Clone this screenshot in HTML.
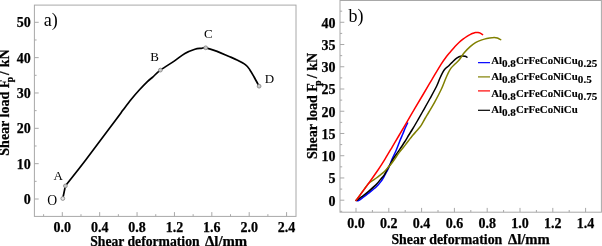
<!DOCTYPE html>
<html><head><meta charset="utf-8"><style>
html,body{margin:0;padding:0;background:#fff;}
svg{display:block;will-change:transform;}
text{-webkit-font-smoothing:antialiased;}
text{font-family:"Liberation Serif",serif;}
.lab{font-weight:bold;font-size:14px;fill:#000;stroke:#000;stroke-width:0.25px;}
.pl{font-size:18px;fill:#000;}
.pt{font-size:13px;fill:#000;}
.lg{font-weight:bold;font-size:10.8px;fill:#000;stroke:#000;stroke-width:0.15px;}
.sb{font-size:11.1px;}
</style></head><body>
<svg width="602" height="246" viewBox="0 0 602 246">
<rect x="34.4" y="5.1" width="261.60" height="211.30" fill="none" stroke="#a8a8a8" stroke-width="1"/>
<rect x="340.0" y="0.5" width="261.40" height="211.70" fill="none" stroke="#a8a8a8" stroke-width="1"/>
<path d="M34.4 199.00h4.3 M34.4 181.33h2.2 M34.4 163.66h4.3 M34.4 145.99h2.2 M34.4 128.32h4.3 M34.4 110.65h2.2 M34.4 92.98h4.3 M34.4 75.31h2.2 M34.4 57.64h4.3 M34.4 39.97h2.2 M34.4 22.30h4.3 M43.61 216.4v-2.2 M62.30 216.4v-4.3 M80.99 216.4v-2.2 M99.68 216.4v-4.3 M118.37 216.4v-2.2 M137.06 216.4v-4.3 M155.75 216.4v-2.2 M174.44 216.4v-4.3 M193.13 216.4v-2.2 M211.82 216.4v-4.3 M230.51 216.4v-2.2 M249.20 216.4v-4.3 M267.89 216.4v-2.2 M286.58 216.4v-4.3 M340.0 211.32h2.2 M340.0 200.20h4.3 M340.0 189.08h2.2 M340.0 177.96h4.3 M340.0 166.84h2.2 M340.0 155.72h4.3 M340.0 144.60h2.2 M340.0 133.48h4.3 M340.0 122.36h2.2 M340.0 111.24h4.3 M340.0 100.12h2.2 M340.0 89.00h4.3 M340.0 77.88h2.2 M340.0 66.76h4.3 M340.0 55.64h2.2 M340.0 44.52h4.3 M340.0 33.40h2.2 M340.0 22.28h4.3 M340.0 11.16h2.2 M356.00 212.2v-4.3 M372.40 212.2v-2.2 M388.80 212.2v-4.3 M405.20 212.2v-2.2 M421.60 212.2v-4.3 M438.00 212.2v-2.2 M454.40 212.2v-4.3 M470.80 212.2v-2.2 M487.20 212.2v-4.3 M503.60 212.2v-2.2 M520.00 212.2v-4.3 M536.40 212.2v-2.2 M552.80 212.2v-4.3 M569.20 212.2v-2.2 M585.60 212.2v-4.3" stroke="#a8a8a8" stroke-width="1" fill="none"/>
<g class="lab"><text x="30.8" y="204.10" text-anchor="end">0</text><text x="30.8" y="168.76" text-anchor="end">10</text><text x="30.8" y="133.42" text-anchor="end">20</text><text x="30.8" y="98.08" text-anchor="end">30</text><text x="30.8" y="62.74" text-anchor="end">40</text><text x="30.8" y="27.40" text-anchor="end">50</text><text x="62.30" y="232.2" text-anchor="middle">0.0</text><text x="99.68" y="232.2" text-anchor="middle">0.4</text><text x="137.06" y="232.2" text-anchor="middle">0.8</text><text x="174.44" y="232.2" text-anchor="middle">1.2</text><text x="211.82" y="232.2" text-anchor="middle">1.6</text><text x="249.20" y="232.2" text-anchor="middle">2.0</text><text x="286.58" y="232.2" text-anchor="middle">2.4</text><text x="335.6" y="205.60" text-anchor="end">0</text><text x="335.6" y="183.36" text-anchor="end">5</text><text x="335.6" y="161.12" text-anchor="end">10</text><text x="335.6" y="138.88" text-anchor="end">15</text><text x="335.6" y="116.64" text-anchor="end">20</text><text x="335.6" y="94.40" text-anchor="end">25</text><text x="335.6" y="72.16" text-anchor="end">30</text><text x="335.6" y="49.92" text-anchor="end">35</text><text x="335.6" y="27.68" text-anchor="end">40</text><text x="356.00" y="228.1" text-anchor="middle">0.0</text><text x="388.80" y="228.1" text-anchor="middle">0.2</text><text x="421.60" y="228.1" text-anchor="middle">0.4</text><text x="454.40" y="228.1" text-anchor="middle">0.6</text><text x="487.20" y="228.1" text-anchor="middle">0.8</text><text x="520.00" y="228.1" text-anchor="middle">1.0</text><text x="552.80" y="228.1" text-anchor="middle">1.2</text><text x="585.60" y="228.1" text-anchor="middle">1.4</text></g>
<text class="lab" x="90.2" y="246.2" textLength="109.4" lengthAdjust="spacingAndGlyphs">Shear deformation</text>
<text class="lab" x="205.0" y="246.2" textLength="42.2" lengthAdjust="spacingAndGlyphs">&#916;l/mm</text>
<text class="lab" x="391.4" y="244.3" textLength="110.9" lengthAdjust="spacingAndGlyphs">Shear deformation</text>
<text class="lab" x="508.0" y="244.3" textLength="41.8" lengthAdjust="spacingAndGlyphs">&#916;l/mm</text>
<g class="lab" transform="translate(9.1 0) rotate(-90)"><text x="-155.7" y="0">Shear load F</text><text x="-82.3" y="4.2" font-size="9.5">p</text><text x="-74.9" y="0">/</text><text x="-67.3" y="0">kN</text></g>
<g class="lab" transform="translate(317.2 3.4) rotate(-90)"><text x="-155.7" y="0">Shear load F</text><text x="-82.3" y="4.2" font-size="9.5">p</text><text x="-74.9" y="0">/</text><text x="-67.3" y="0">kN</text></g>
<text class="pl" x="43.8" y="26.3">a)</text>
<text class="pl" x="348.4" y="21.9">b)</text>
<text class="pt" x="47.2" y="204.5" style="font-size:13.7px">O</text>
<text class="pt" x="53.6" y="180.3">A</text>
<text class="pt" x="150.3" y="61.0">B</text>
<text class="pt" x="203.9" y="38.3">C</text>
<text class="pt" x="264.8" y="83.2">D</text>
<path d="M62.8 198.5 L65.4 185.9" fill="none" stroke="#000" stroke-width="1.7"/>
<path d="M65.40 185.90 C68.78 181.58 77.32 170.98 85.70 160.00 C94.08 149.02 109.48 128.32 115.70 120.00 C121.92 111.68 120.43 113.52 123.00 110.10 C125.57 106.68 128.35 102.88 131.10 99.50 C133.85 96.12 136.78 92.78 139.50 89.80 C142.22 86.82 145.15 83.77 147.40 81.60 C149.65 79.43 150.83 78.72 153.00 76.80 C155.17 74.88 156.87 72.72 160.40 70.10 C163.93 67.48 170.12 63.87 174.20 61.10 C178.28 58.33 181.45 55.47 184.90 53.50 C188.35 51.53 192.17 50.17 194.90 49.30 C197.63 48.43 199.50 48.55 201.30 48.30 C203.10 48.05 203.07 47.28 205.70 47.80 C208.33 48.32 213.30 50.00 217.10 51.40 C220.90 52.80 225.18 54.78 228.50 56.20 C231.82 57.62 234.15 58.47 237.00 59.90 C239.85 61.33 243.45 63.13 245.60 64.80 C247.75 66.47 248.48 67.87 249.90 69.90 C251.32 71.93 252.57 74.28 254.10 77.00 C255.63 79.72 258.27 84.67 259.10 86.20" fill="none" stroke="#000" stroke-width="1.7" stroke-linejoin="round"/>
<circle cx="62.8" cy="198.5" r="1.9" fill="#e8e8e8" stroke="#808080" stroke-width="0.8"/>
<circle cx="65.4" cy="185.9" r="1.9" fill="#c8c8c8" stroke="#808080" stroke-width="0.8"/>
<circle cx="160.4" cy="70.1" r="1.9" fill="#c8c8c8" stroke="#808080" stroke-width="0.8"/>
<circle cx="205.7" cy="47.8" r="1.9" fill="#c8c8c8" stroke="#808080" stroke-width="0.8"/>
<circle cx="259.1" cy="86.2" r="1.9" fill="#c8c8c8" stroke="#808080" stroke-width="0.8"/>
<path d="M356.10 200.40 C356.50 200.42 357.35 200.98 358.50 200.50 C359.65 200.02 361.37 198.68 363.00 197.50 C364.63 196.32 366.07 195.18 368.30 193.40 C370.53 191.62 374.20 188.90 376.40 186.80 C378.60 184.70 380.18 182.57 381.50 180.80 C382.82 179.03 383.47 177.67 384.30 176.20 C385.13 174.73 385.78 173.37 386.50 172.00 C387.22 170.63 387.70 170.08 388.60 168.00 C389.50 165.92 390.62 162.50 391.90 159.50 C393.18 156.50 394.98 153.08 396.30 150.00 C397.62 146.92 398.72 143.67 399.80 141.00 C400.88 138.33 401.93 136.08 402.80 134.00 C403.67 131.92 404.20 130.33 405.00 128.50 C405.80 126.67 407.17 123.92 407.60 123.00" fill="none" stroke="#0000ff" stroke-width="1.5" stroke-linejoin="round" stroke-linecap="round"/>
<path d="M356.10 200.40 C356.33 200.30 356.55 200.42 357.50 199.80 C358.45 199.18 360.00 198.07 361.80 196.70 C363.60 195.33 365.87 193.65 368.30 191.60 C370.73 189.55 374.23 186.60 376.40 184.40 C378.57 182.20 379.95 180.03 381.30 178.40 C382.65 176.77 383.45 176.23 384.50 174.60 C385.55 172.97 386.75 170.13 387.60 168.60 C388.45 167.07 388.62 167.08 389.60 165.40 C390.58 163.72 392.10 160.75 393.50 158.50 C394.90 156.25 396.15 154.65 398.00 151.90 C399.85 149.15 402.80 144.82 404.60 142.00 C406.40 139.18 407.52 137.08 408.80 135.00 C410.08 132.92 410.88 131.83 412.30 129.50 C413.72 127.17 415.57 124.00 417.30 121.00 C419.03 118.00 420.58 115.25 422.70 111.50 C424.82 107.75 427.67 102.75 430.00 98.50 C432.33 94.25 435.07 89.33 436.70 86.00 C438.33 82.67 438.82 80.73 439.80 78.50 C440.78 76.27 441.73 74.18 442.60 72.60 C443.47 71.02 444.07 70.07 445.00 69.00 C445.93 67.93 447.07 67.27 448.20 66.20 C449.33 65.13 450.38 63.93 451.80 62.60 C453.22 61.27 455.07 59.28 456.70 58.20 C458.33 57.12 460.18 56.42 461.60 56.10 C463.02 55.78 464.30 56.12 465.20 56.30 C466.10 56.48 466.70 57.05 467.00 57.20" fill="none" stroke="#000000" stroke-width="1.5" stroke-linejoin="round" stroke-linecap="round"/>
<path d="M356.10 200.40 C357.08 199.05 359.97 195.07 362.00 192.30 C364.03 189.53 366.55 185.75 368.30 183.80 C370.05 181.85 371.15 181.57 372.50 180.60 C373.85 179.63 375.07 178.97 376.40 178.00 C377.73 177.03 379.15 175.88 380.50 174.80 C381.85 173.72 382.98 173.00 384.50 171.50 C386.02 170.00 388.18 167.47 389.60 165.80 C391.02 164.13 391.38 163.73 393.00 161.50 C394.62 159.27 397.62 154.68 399.30 152.40 C400.98 150.12 401.73 149.53 403.10 147.80 C404.47 146.07 405.85 144.13 407.50 142.00 C409.15 139.87 411.42 136.92 413.00 135.00 C414.58 133.08 415.67 132.07 417.00 130.50 C418.33 128.93 419.67 127.60 421.00 125.60 C422.33 123.60 423.68 120.77 425.00 118.50 C426.32 116.23 427.28 114.73 428.90 112.00 C430.52 109.27 432.63 105.88 434.70 102.10 C436.77 98.32 439.53 93.07 441.30 89.30 C443.07 85.53 444.22 82.08 445.30 79.50 C446.38 76.92 446.85 75.70 447.80 73.80 C448.75 71.90 449.80 69.73 451.00 68.10 C452.20 66.47 453.65 65.35 455.00 64.00 C456.35 62.65 457.57 61.87 459.10 60.00 C460.63 58.13 462.40 54.98 464.20 52.80 C466.00 50.62 468.02 48.58 469.90 46.90 C471.78 45.22 473.95 43.70 475.50 42.70 C477.05 41.70 477.72 41.50 479.20 40.90 C480.68 40.30 482.67 39.58 484.40 39.10 C486.13 38.62 487.97 38.27 489.60 38.00 C491.23 37.73 492.90 37.50 494.20 37.50 C495.50 37.50 496.32 37.63 497.40 38.00 C498.48 38.37 500.15 39.42 500.70 39.70" fill="none" stroke="#808000" stroke-width="1.5" stroke-linejoin="round" stroke-linecap="round"/>
<path d="M356.10 200.40 C357.92 197.93 363.35 190.67 367.00 185.60 C370.65 180.53 375.00 174.42 378.00 170.00 C381.00 165.58 382.62 162.97 385.00 159.10 C387.38 155.23 390.07 150.57 392.30 146.80 C394.53 143.03 395.35 141.68 398.40 136.50 C401.45 131.32 406.53 122.62 410.60 115.70 C414.67 108.78 419.25 101.02 422.80 95.00 C426.35 88.98 428.87 84.72 431.90 79.60 C434.93 74.48 438.57 68.15 441.00 64.30 C443.43 60.45 444.92 58.58 446.50 56.50 C448.08 54.42 449.08 53.47 450.50 51.80 C451.92 50.13 453.58 48.05 455.00 46.50 C456.42 44.95 457.67 43.72 459.00 42.50 C460.33 41.28 461.67 40.22 463.00 39.20 C464.33 38.18 465.75 37.20 467.00 36.40 C468.25 35.60 469.50 34.92 470.50 34.40 C471.50 33.88 472.17 33.62 473.00 33.30 C473.83 32.98 474.67 32.63 475.50 32.50 C476.33 32.37 477.20 32.40 478.00 32.50 C478.80 32.60 479.53 32.75 480.30 33.10 C481.07 33.45 482.22 34.35 482.60 34.60" fill="none" stroke="#ff0000" stroke-width="1.5" stroke-linejoin="round" stroke-linecap="round"/>
<path d="M478 62.65H490" stroke="#0000ff" stroke-width="1.2"/>
<text class="lg" x="491.2" y="63.8">Al<tspan class="sb" dy="2.8">0.8</tspan><tspan dy="-2.8">CrFeCoNiCu</tspan><tspan class="sb" dx="0.2" dy="2.8">0.25</tspan></text>
<path d="M478 76.9H490" stroke="#808000" stroke-width="1.2"/>
<text class="lg" x="491.2" y="80.2">Al<tspan class="sb" dy="2.8">0.8</tspan><tspan dy="-2.8">CrFeCoNiCu</tspan><tspan class="sb" dx="0.2" dy="2.8">0.5</tspan></text>
<path d="M478 90.9H490" stroke="#ff0000" stroke-width="1.2"/>
<text class="lg" x="491.2" y="97.0">Al<tspan class="sb" dy="2.8">0.8</tspan><tspan dy="-2.8">CrFeCoNiCu</tspan><tspan class="sb" dx="0.2" dy="2.8">0.75</tspan></text>
<path d="M478 110.3H490" stroke="#000000" stroke-width="1.2"/>
<text class="lg" x="491.2" y="113.3">Al<tspan class="sb" dy="2.8">0.8</tspan><tspan dy="-2.8">CrFeCoNiCu</tspan></text>
</svg>
</body></html>
